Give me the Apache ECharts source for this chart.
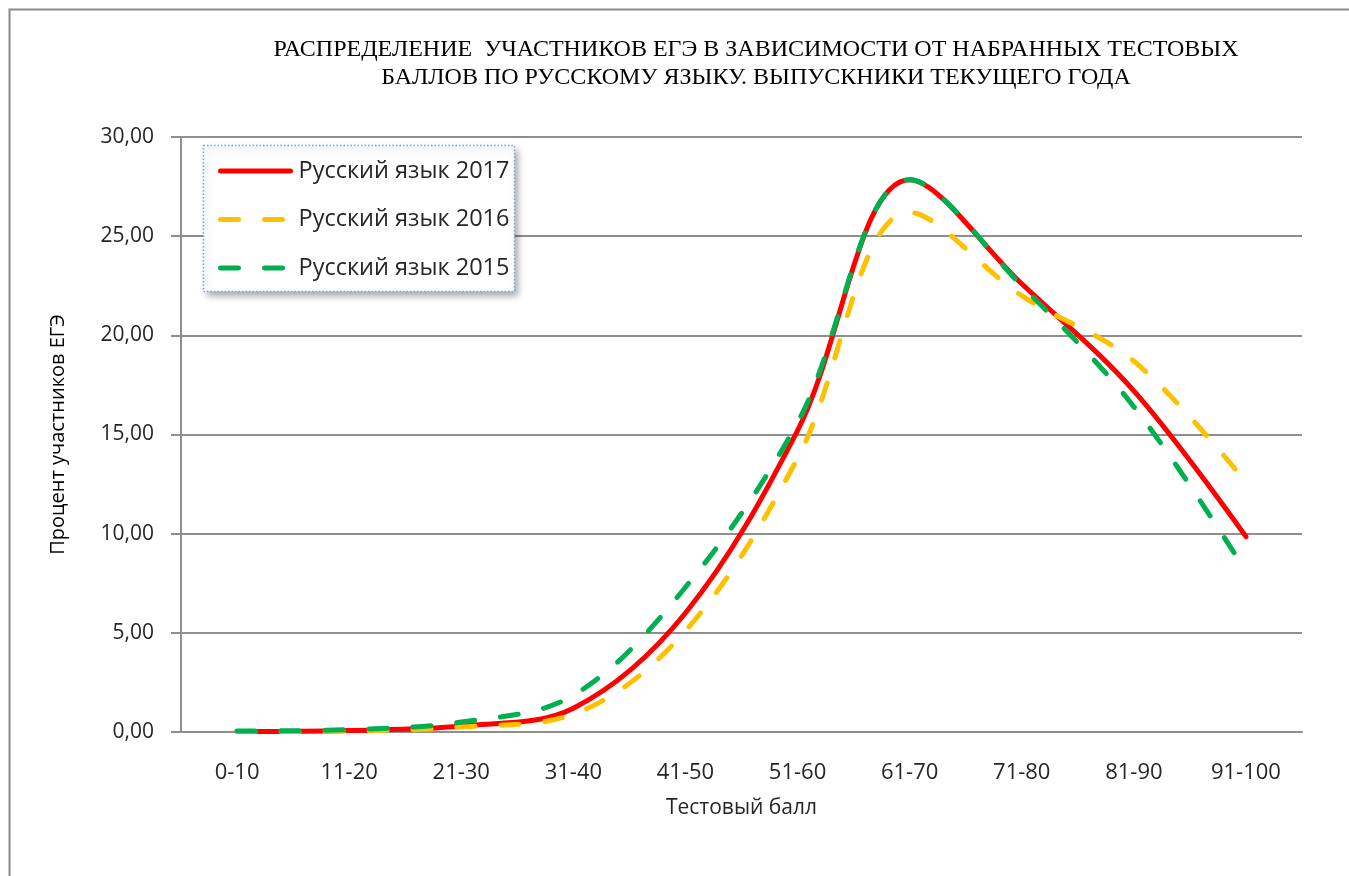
<!DOCTYPE html>
<html>
<head>
<meta charset="utf-8">
<script src="https://cdn.jsdelivr.net/npm/echarts@6/dist/echarts.min.js"></script>
<style>
html,body{margin:0;padding:0;background:#fff;}
#chart{width:1349px;height:876px;}
</style>
</head>
<body>
<div id="chart"></div>
<script>
const categories = ['0-10','11-20','21-30','31-40','41-50','51-60','61-70','71-80','81-90','91-100'];
const seriesNames = ['Русский язык 2017','Русский язык 2016','Русский язык 2015'];
const values2017 = [0.02, 0.08, 0.30, 1.20, 6.00, 15.20, 27.85, 22.60, 17.20, 9.85];
const values2016 = [0.02, 0.05, 0.25, 0.90, 5.10, 13.80, 26.20, 22.00, 18.70, 12.60];
const values2015 = [0.05, 0.12, 0.50, 1.85, 7.30, 15.60, 27.85, 22.50, 16.40, 8.10];
const yTickLabels = ['0,00','5,00','10,00','15,00','20,00','25,00','30,00'];
const titleText = 'РАСПРЕДЕЛЕНИЕ  УЧАСТНИКОВ ЕГЭ В ЗАВИСИМОСТИ ОТ НАБРАННЫХ ТЕСТОВЫХ\nБАЛЛОВ ПО РУССКОМУ ЯЗЫКУ. ВЫПУСКНИКИ ТЕКУЩЕГО ГОДА';
const xAxisName = 'Тестовый балл';
const yAxisName = 'Процент участников ЕГЭ';

const sansFont = '"Open Sans", "Noto Sans", sans-serif';
const gridColor = '#8e8e8e';
const textColor = '#262626';

const chart = echarts.init(document.getElementById('chart'));

function mkSeries(name, data, color, dashed, z) {
  return {
    name: name,
    type: 'line',
    data: data,
    smooth: 0.35,
    symbol: 'none',
    showSymbol: false,
    z: z,
    color: color,
    lineStyle: {
      color: color,
      width: 5,
      type: dashed ? [18, 26] : 'solid',
      cap: 'round',
      join: 'round'
    }
  };
}

chart.setOption({
  animation: false,
  backgroundColor: '#ffffff',
  title: {
    text: titleText,
    left: 756,
    top: 36,
    textAlign: 'center',
    padding: 0,
    textStyle: {
      fontFamily: '"Liberation Serif", "DejaVu Serif", serif',
      fontSize: 24,
      lineHeight: 28,
      fontWeight: 'normal',
      color: '#000000'
    }
  },
  graphic: [
    {
      type: 'rect',
      z: 0,
      silent: true,
      shape: { x: 9.5, y: 9.5, width: 1400, height: 900 },
      style: { fill: 'none', stroke: '#8a8a8a', lineWidth: 2 }
    },
    {
      type: 'rect',
      z: 20,
      silent: true,
      shape: { x: 203.5, y: 145.5, width: 311, height: 146 },
      style: {
        fill: '#ffffff',
        stroke: '#6fa8e8',
        lineWidth: 1.5,
        lineDash: [1.5, 2],
        shadowBlur: 7,
        shadowOffsetX: 3,
        shadowOffsetY: 4,
        shadowColor: 'rgba(0,0,0,0.35)'
      }
    }
  ],
  legend: {
    z: 30,
    orient: 'vertical',
    left: 218,
    top: 159,
    padding: 0,
    itemWidth: 70,
    itemHeight: 24,
    itemGap: 24.5,
    data: seriesNames,
    itemStyle: { opacity: 0 },
    lineStyle: { width: 5, cap: 'round' },
    textStyle: {
      fontFamily: sansFont,
      fontSize: 23.5,
      color: textColor,
      padding: [0, 0, 0, 3]
    }
  },
  grid: {
    left: 181,
    right: 47,
    top: 137,
    bottom: 144,
    containLabel: false
  },
  xAxis: {
    type: 'category',
    data: categories,
    boundaryGap: true,
    name: xAxisName,
    nameLocation: 'middle',
    nameGap: 66,
    nameTextStyle: { fontFamily: sansFont, fontSize: 21, color: textColor },
    axisLine: { show: true, lineStyle: { color: gridColor, width: 2 } },
    axisTick: { show: false },
    axisLabel: {
      margin: 30,
      fontFamily: sansFont,
      fontSize: 22,
      color: textColor,
      interval: 0
    },
    splitLine: { show: false }
  },
  yAxis: {
    type: 'value',
    min: 0,
    max: 30,
    interval: 5,
    name: yAxisName,
    nameLocation: 'middle',
    nameRotate: 90,
    nameGap: 113,
    nameTextStyle: { fontFamily: sansFont, fontSize: 20, color: '#000000' },
    axisLine: { show: true, lineStyle: { color: gridColor, width: 2 } },
    axisTick: { show: true, inside: false, length: 10, lineStyle: { color: gridColor, width: 2 } },
    axisLabel: {
      margin: 27,
      fontFamily: sansFont,
      fontSize: 21,
      color: textColor,
      formatter: function (v, i) { return yTickLabels[Math.round(v / 5)]; }
    },
    splitLine: { show: true, lineStyle: { color: gridColor, width: 2 } }
  },
  series: [
    mkSeries(seriesNames[0], values2017, '#ff0000', false, 3),
    mkSeries(seriesNames[1], values2016, '#ffc000', true, 4),
    mkSeries(seriesNames[2], values2015, '#00b050', true, 5)
  ]
});
</script>
</body>
</html>
